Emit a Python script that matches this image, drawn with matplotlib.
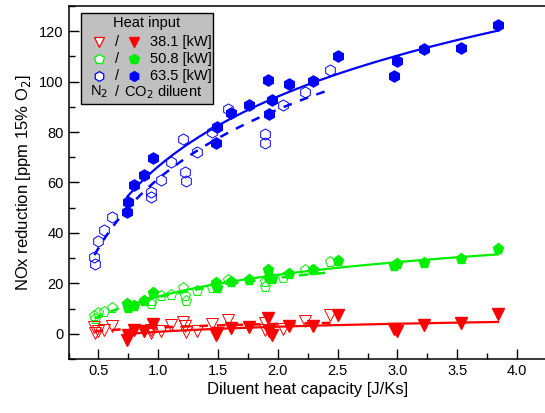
import numpy as np
import matplotlib
matplotlib.use("Agg")
import matplotlib.pyplot as plt
from matplotlib.patches import Rectangle

plt.rcParams['font.family'] = ['Liberation Sans', 'DejaVu Sans']

# diluent heat capacity [J/Ks] for N2 (open) and CO2 (filled) runs
x_n2 = [0.467, 0.47, 0.50, 0.55, 0.61, 0.94, 0.94, 1.02, 1.11, 1.21,
        1.22, 1.23, 1.32, 1.45, 1.58, 1.89, 1.895, 2.04, 2.23, 2.44]
x_co2 = [0.74, 0.745, 0.80, 0.88, 0.955, 1.48, 1.49, 1.61, 1.76, 1.92,
         1.95, 1.93, 2.09, 2.29, 2.50, 2.975, 3.0, 3.22, 3.53, 3.84]

# NOx reduction [ppm 15% O2]
y_n2_381 = [2.5, 0.5, 1.0, 1.5, 3.0, 1.5, 0.5, 1.0, 3.5, 4.5,
            3.0, 0.8, 1.0, 4.0, 5.5, 4.2, 1.5, 2.0, 5.0, 7.5]
y_co2_381 = [-2.3, -0.4, 1.5, 1.0, 4.0, -0.5, 0.5, 2.4, 2.7, 6.2,
             -0.3, 1.2, 3.2, 3.2, 7.3, 2.0, 0.9, 3.6, 4.2, 8.0]
y_n2_508 = [6.9, 5.8, 8.2, 8.6, 10.2, 11.8, 13.0, 14.8, 15.4, 18.1,
            14.8, 13.1, 16.8, 18.1, 21.4, 18.7, 20.7, 22.3, 25.3, 28.6]
y_co2_508 = [11.8, 10.2, 11.2, 12.8, 16.1, 20.1, 18.3, 20.7, 21.4, 25.3,
             21.8, 22.3, 23.8, 25.3, 28.9, 26.7, 27.6, 28.0, 29.6, 33.5]
y_n2_635 = [30.4, 27.7, 36.6, 41.2, 46.5, 56.4, 54.4, 61.0, 68.2, 77.1,
            64.3, 60.7, 72.2, 80.0, 89.0, 79.2, 75.5, 90.7, 95.8, 104.8]
y_co2_635 = [48.2, 52.4, 58.9, 63.1, 69.8, 75.8, 82.1, 87.4, 90.7, 100.6,
             92.9, 87.0, 99.1, 100.3, 110.1, 102.2, 108.3, 113.0, 113.5, 122.5]

powers = ['38.1', '50.8', '63.5']
colors = ['#ff0000', '#00ee00', '#0000ff']
markers = ['v', 'p', 'h']
n2_sets = [y_n2_381, y_n2_508, y_n2_635]
co2_sets = [y_co2_381, y_co2_508, y_co2_635]


def logfit(x, y):
    x = np.asarray(x)
    b, a = np.polyfit(np.log(x), y, 1)
    xs = np.linspace(x.min(), x.max(), 100)
    return xs, a + b*np.log(xs)


fig = plt.figure(figsize=(5.45, 4.13), dpi=100)
ax = fig.add_axes([0.1257, 0.1308, 0.878, 0.8547])

for c, m, yn, yc in zip(colors, markers, n2_sets, co2_sets):
    ax.plot(x_n2, yn, ls='none', marker=m, ms=8, mfc='none', mec=c, mew=0.7)
    ax.plot(x_co2, yc, ls='none', marker=m, ms=8, mfc=c, mec=c)
    xs, ys = logfit(x_n2, yn)
    ax.plot(xs, ys, color=c, lw=1.8, ls=(0, (3.5, 3.5)))
    xs, ys = logfit(x_co2, yc)
    ax.plot(xs, ys, color=c, lw=1.6)

ax.set_xlim(0.25, 4.25)
ax.set_ylim(-10, 130)
ax.set_xticks(np.arange(0.5, 4.01, 0.5))
ax.set_xticks(np.arange(0.25, 4.3, 0.25), minor=True)
ax.set_yticks(np.arange(0, 121, 20))
ax.set_yticks(np.arange(-10, 131, 10), minor=True)
ax.tick_params(which='both', direction='in', labelsize=10.5, width=1)
ax.tick_params(which='major', length=7)
ax.tick_params(which='minor', length=4)
for s in ax.spines.values():
    s.set_linewidth(1.1)

ax.set_xlabel('Diluent heat capacity [J/Ks]', fontsize=12, labelpad=3)
ax.set_ylabel('NOx reduction [ppm 15% O$_2$]', fontsize=12, labelpad=4)

# legend box drawn by hand (open / filled marker pairs)
ax.add_patch(Rectangle((0.026, 0.722), 0.276, 0.258, transform=ax.transAxes,
                       facecolor='#c0c0c0', edgecolor='black', lw=1, zorder=5))
ax.text(0.164, 0.952, 'Heat input', transform=ax.transAxes, ha='center',
        va='center', fontsize=10.5, zorder=6)
row_y = [0.898, 0.851, 0.802]
for ry, p, c, m in zip(row_y, powers, colors, markers):
    ax.plot([0.064], [ry], transform=ax.transAxes, marker=m, ms=7, mfc='white',
            mec=c, mew=0.9, ls='none', zorder=6, clip_on=False)
    ax.text(0.101, ry, '/', transform=ax.transAxes, ha='center', va='center',
            fontsize=10.5, zorder=6)
    ax.plot([0.137], [ry], transform=ax.transAxes, marker=m, ms=7, mfc=c,
            mec=c, ls='none', zorder=6, clip_on=False)
    ax.text(0.170, ry, p + ' [kW]', transform=ax.transAxes, va='center',
            fontsize=10.5, zorder=6)
ax.text(0.045, 0.756, 'N$_2$', transform=ax.transAxes, va='center',
        fontsize=10.5, zorder=6)
ax.text(0.101, 0.756, '/', transform=ax.transAxes, ha='center', va='center',
        fontsize=10.5, zorder=6)
ax.text(0.116, 0.756, 'CO$_2$ diluent', transform=ax.transAxes, va='center',
        fontsize=10.5, zorder=6)

fig.savefig('out.png', dpi=100)
